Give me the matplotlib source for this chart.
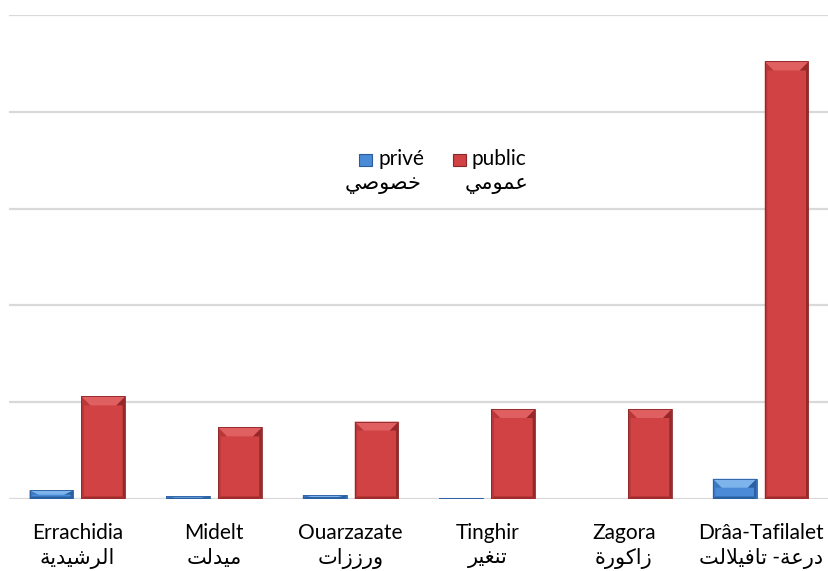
import matplotlib.pyplot as plt
from matplotlib.patches import Polygon, Rectangle

# categories (latin / arabic) and values
regions = ['Errachidia', 'Midelt', 'Ouarzazate', 'Tinghir', 'Zagora', 'Drâa-Tafilalet']
regions_ar = ['الرشيدية', 'ميدلت', 'ورززات', 'تنغير', 'زاكورة', 'درعة- تافيلالت']
prive = [9, 3, 4, 1, 0, 21]
public = [106, 74, 80, 93, 93, 452]
series_names = ['privé', 'public']
series_names_ar = ['خصوصي', 'عمومي']

# --- minimal arabic shaping (matplotlib has no bidi / shaping) ---
FORMS = {
    'ا': (0xFE8D, 0xFE8E, None, None), 'ة': (0xFE93, 0xFE94, None, None),
    'ت': (0xFE95, 0xFE96, 0xFE97, 0xFE98), 'خ': (0xFEA5, 0xFEA6, 0xFEA7, 0xFEA8),
    'د': (0xFEA9, 0xFEAA, None, None), 'ر': (0xFEAD, 0xFEAE, None, None),
    'ز': (0xFEAF, 0xFEB0, None, None), 'ش': (0xFEB5, 0xFEB6, 0xFEB7, 0xFEB8),
    'ص': (0xFEB9, 0xFEBA, 0xFEBB, 0xFEBC), 'ع': (0xFEC9, 0xFECA, 0xFECB, 0xFECC),
    'غ': (0xFECD, 0xFECE, 0xFECF, 0xFED0), 'ف': (0xFED1, 0xFED2, 0xFED3, 0xFED4),
    'ك': (0xFED9, 0xFEDA, 0xFEDB, 0xFEDC), 'ل': (0xFEDD, 0xFEDE, 0xFEDF, 0xFEE0),
    'م': (0xFEE1, 0xFEE2, 0xFEE3, 0xFEE4), 'ن': (0xFEE5, 0xFEE6, 0xFEE7, 0xFEE8),
    'و': (0xFEED, 0xFEEE, None, None), 'ي': (0xFEF1, 0xFEF2, 0xFEF3, 0xFEF4),
}


def dual(c):
    return c in FORMS and FORMS[c][2] is not None


def shape(text):
    out = []
    i = 0
    while i < len(text):
        c = text[i]
        if c not in FORMS:
            out.append(c)
            i += 1
            continue
        prev = text[i - 1] if i > 0 else ''
        join_prev = dual(prev)
        if c == 'ل' and i + 1 < len(text) and text[i + 1] == 'ا':
            out.append(chr(0xFEFC if join_prev else 0xFEFB))
            i += 2
            continue
        nxt = text[i + 1] if i + 1 < len(text) else ''
        join_next = dual(c) and nxt in FORMS
        iso, fin, ini, med = FORMS[c]
        if join_prev and join_next:
            out.append(chr(med))
        elif join_prev:
            out.append(chr(fin))
        elif join_next:
            out.append(chr(ini))
        else:
            out.append(chr(iso))
        i += 1
    return ''.join(out)[::-1]


plt.rcParams['font.family'] = ['Lato', 'DejaVu Sans']

fig = plt.figure(figsize=(8.29, 5.71), dpi=100)
ax = fig.add_axes([9 / 829, 1 - 499 / 571, 820 / 829, 484 / 571])

x = list(range(len(regions)))
w = 0.32
styles = {
    'privé': dict(face='#4A8AD6', top='#7DB4EC', left='#3C78C2', right='#2A5FA2', bottom='#2A5FA2', edge='#2A5C9C'),
    'public': dict(face='#D04243', top='#E06062', left='#B93738', right='#962829', bottom='#A02C2D', edge='#8A2728'),
}

bars_p = ax.bar([i - 0.19 for i in x], prive, w, color=styles['privé']['face'], zorder=3, linewidth=0)
bars_q = ax.bar([i + 0.19 for i in x], public, w, color=styles['public']['face'], zorder=3, linewidth=0)

ax.set_xlim(-0.5, len(regions) - 0.5)
ax.set_ylim(0, 500)
ax.set_yticks(range(0, 501, 100))
ax.yaxis.grid(True, color='#D9D9D9', linewidth=1.6, zorder=0)
ax.set_yticklabels([])
ax.tick_params(length=0)
for s in ax.spines.values():
    s.set_visible(False)

# bevel look of the excel bars
bb = ax.get_window_extent()
sx = 6 / bb.width
sy = 500 / bb.height


def bevel(bars, st):
    for p in bars:
        x0, y0 = p.get_x(), p.get_y()
        bw_, h = p.get_width(), p.get_height()
        if h <= 0:
            continue
        x1, y1 = x0 + bw_, y0 + h
        th = min(9 * sy, h / 2)
        tw = min(9 * sx, bw_ / 2)
        sw = min(2.5 * sx, bw_ / 2)
        bh = min(2.5 * sy, h / 2)
        polys = [
            ([(x0, y0), (x0, y1), (x0 + tw, y1 - th), (x0 + sw, y1 - th), (x0 + sw, y0 + bh)], st['left']),
            ([(x1, y0), (x1, y1), (x1 - tw, y1 - th), (x1 - sw, y1 - th), (x1 - sw, y0 + bh)], st['right']),
            ([(x0, y0), (x1, y0), (x1 - sw, y0 + bh), (x0 + sw, y0 + bh)], st['bottom']),
            ([(x0, y1), (x1, y1), (x1 - tw, y1 - th), (x0 + tw, y1 - th)], st['top']),
        ]
        for pts, col in polys:
            ax.add_patch(Polygon(pts, closed=True, facecolor=col, edgecolor='none', zorder=4))
        ax.add_patch(Rectangle((x0, y0), bw_, h, fill=False, edgecolor=st['edge'], linewidth=0.6, zorder=5))


bevel(bars_p, styles['privé'])
bevel(bars_q, styles['public'])

ax.set_xticks(x)
ax.set_xticklabels([])
for i, (lat, ar) in enumerate(zip(regions, regions_ar)):
    ax.text(i, -0.05, lat, transform=ax.get_xaxis_transform(), ha='center', va='top', fontsize=15)
    ax.text(i, -0.101, shape(ar), transform=ax.get_xaxis_transform(), ha='center', va='top', fontsize=15)

# legend built by hand (two-line labels with the marker on the first line)
leg_x = [359 / 829, 453 / 829]
ar_x = [383 / 829, 497 / 829]
for lx, ax_, name, name_ar, key in zip(leg_x, ar_x, series_names, series_names_ar, ['privé', 'public']):
    st = styles[key]
    fig.patches.append(Rectangle((lx, 1 - 166 / 571), 13 / 829, 12 / 571, transform=fig.transFigure,
                                 facecolor=st['face'], edgecolor=st['edge'], linewidth=0.8))
    fig.text(lx + 19 / 829, 1 - 159 / 571, name, ha='left', va='center', fontsize=15)
    fig.text(ax_, 1 - 184 / 571, shape(name_ar), ha='center', va='center', fontsize=15)

fig.savefig('out.png', dpi=100)
